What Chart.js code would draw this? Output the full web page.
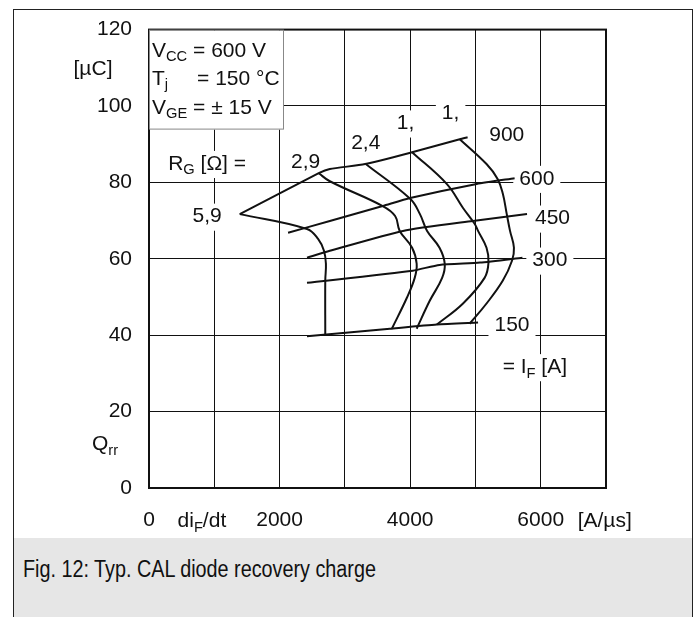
<!DOCTYPE html>
<html>
<head>
<meta charset="utf-8">
<script src="https://cdn.jsdelivr.net/npm/chart.js@4.4.1/dist/chart.umd.min.js"></script>
<style>
  body { margin: 0; background: #fff; }
  #frame { position: absolute; left: 13px; top: 9px; width: 678px; height: 529px; border: 1px solid #222; border-bottom: none; }
  #caption { position: absolute; left: 13px; top: 538px; width: 678px; height: 79px; background: #e6e6e6;
             border-left: 1px solid #222; border-right: 1px solid #222;
             font-family: 'Liberation Sans', Arial, sans-serif; font-size: 23px; color: #111; }
  #caption span { position: absolute; left: 9px; top: 18px; white-space: nowrap;
                  transform: scaleX(0.86); transform-origin: left top; }
  #chart { position: absolute; left: 0; top: 0; }
</style>
</head>
<body>
<div id="frame"></div>
<div id="caption"><span>Fig. 12: Typ. CAL diode recovery charge</span></div>
<canvas id="chart" width="697" height="538"></canvas>
<script>
// tick labels
const xTickLabels = [0, 2000, 4000, 6000];
const yTickLabels = [0, 20, 40, 60, 80, 100, 120];

// I_F = const curves  [di/dt A/us, Qrr uC]
const iF150 = [[2420, 39.7], [3690, 41.7], [4410, 42.8], [5040, 43.3]];
const iF300 = [[2420, 53.7], [4040, 56.9], [4450, 58.4], [5070, 59.0], [5720, 60.3]];
const iF450 = [[2420, 60.3], [2770, 62.1], [3890, 67.3], [4960, 69.9], [5790, 71.7]];
const iF600 = [[2130, 66.8], [2770, 69.9], [3580, 73.8], [4000, 75.9], [5020, 79.6], [5600, 81.1]];
const iF900 = [[1390, 71.7], [2600, 82.4], [2770, 83.5], [3310, 84.8], [4030, 87.9], [4760, 91.3], [4880, 91.8]];

// R_G = const curves
const rg59 = [[1390, 71.7], [2420, 67.8], [2590, 65.2], [2680, 62.1], [2710, 58.7], [2700, 54.3], [2700, 39.9]];
const rg29 = [[2600, 82.4], [2770, 80.3], [3580, 73.8], [3770, 71.2], [3840, 67.3], [4030, 62.9], [4100, 58.7], [4070, 55.0], [3950, 49.8], [3720, 41.7]];
const rg24 = [[3320, 84.8], [4000, 75.7], [4150, 71.7], [4260, 67.3], [4450, 62.9], [4530, 58.7], [4490, 55.0], [4300, 49.0], [4100, 41.7]];
const rg1a = [[4030, 87.9], [4560, 79.6], [4810, 73.3], [4990, 69.1], [5040, 67.3], [5170, 62.9], [5200, 59.0], [5140, 55.0], [4810, 48.3], [4410, 42.8]];
const rg1b = [[4760, 91.3], [5170, 84.8], [5340, 80.9], [5420, 77.0], [5480, 71.7], [5530, 67.3], [5590, 62.9], [5560, 59.5], [5420, 54.3], [5170, 48.3], [4910, 43.0]];

const currentNames = ['150', '300', '450', '600', '900'];
const resistorNames = ['5,9', '2,9', '2,4', '1,', '1,'];

// curve labels, placed in data coordinates (centre of text)
const curveLabels = [
  ['5,9', 890, 71.5], ['2,9', 2400, 85.8], ['R_{G} [Ω] =', 890, 85.3], ['2,4', 3320, 90.8],
  ['1,', 3930, 95.9], ['1,', 4620, 98.5], ['900', 5480, 92.9], ['600', 5940, 81.4],
  ['450', 6180, 71.0], ['300', 6140, 60.0], ['150', 5560, 43.0], ['= I_{F} [A]', 5910, 32.1]
];

const FONT = "'Liberation Sans', Arial, Helvetica, sans-serif";
const FS = 21;

function parts(s) {
  const out = [];
  const re = /_\{([^}]*)\}/g;
  let last = 0, m;
  while ((m = re.exec(s))) {
    if (m.index > last) out.push([s.slice(last, m.index), false]);
    out.push([m[1], true]);
    last = re.lastIndex;
  }
  if (last < s.length) out.push([s.slice(last), false]);
  return out;
}

function richWidth(ctx, s, size) {
  let w = 0;
  parts(s).forEach(([t, sub]) => {
    ctx.font = (sub ? size * 0.7 : size) + 'px ' + FONT;
    w += ctx.measureText(t).width;
  });
  return w;
}

// draw text with subscripts, y = baseline
function drawRich(ctx, s, x, y, align, size, bg) {
  const w = richWidth(ctx, s, size);
  let x0 = align === 'center' ? x - w / 2 : align === 'right' ? x - w : x;
  if (bg) {
    ctx.fillStyle = '#fff';
    ctx.fillRect(x0 - 6, y - size * 0.8 - 2, w + 12, size * 1.1 + 4);
  }
  ctx.fillStyle = '#111';
  ctx.textBaseline = 'alphabetic';
  ctx.textAlign = 'left';
  parts(s).forEach(([t, sub]) => {
    ctx.font = (sub ? size * 0.7 : size) + 'px ' + FONT;
    ctx.fillText(t, x0, sub ? y + size * 0.22 : y);
    x0 += ctx.measureText(t).width;
  });
}

const diagramPlugin = {
  id: 'diagram',
  beforeDatasetsDraw(chart) {
    const { ctx, scales: { x, y } } = chart;
    ctx.save();
    curveLabels.forEach(([t, vx, vy]) => {
      drawRich(ctx, t, x.getPixelForValue(vx), y.getPixelForValue(vy) + FS * 0.36, 'center', FS, true);
    });
    ctx.restore();
  },
  afterDatasetsDraw(chart) {
    const { ctx, chartArea: a, scales: { x, y } } = chart;
    ctx.save();
    // plot frame
    ctx.strokeStyle = '#111';
    ctx.lineWidth = 2;
    ctx.strokeRect(a.left, a.top, a.right - a.left, a.bottom - a.top);
    // conditions box
    const bx = a.left, by = a.top, bw = 134, bh = 99;
    ctx.fillStyle = '#fff';
    ctx.fillRect(bx + 1, by + 1, bw, bh);
    ctx.strokeStyle = '#888';
    ctx.lineWidth = 1;
    ctx.strokeRect(bx + 0.5, by + 0.5, bw, bh);
    const tx = bx + 3;
    drawRich(ctx, 'V_{CC} = 600 V', tx, by + 27, 'left', FS, false);
    const eqX = tx + richWidth(ctx, 'V_{CC} ', FS);
    drawRich(ctx, 'T_{j}', tx, by + 55, 'left', FS, false);
    drawRich(ctx, '= 150 °C', eqX + 4, by + 55, 'left', FS, false);
    drawRich(ctx, 'V_{GE} = ± 15 V', tx, by + 84, 'left', FS, false);
    // axis names
    drawRich(ctx, '[µC]', a.left - 56, y.getPixelForValue(110) + 7, 'center', FS, false);
    drawRich(ctx, 'Q_{rr}', a.left - 44, y.getPixelForValue(11.7) + 7, 'center', FS, false);
    const ty = a.bottom + 39;
    drawRich(ctx, 'di_{F}/dt', x.getPixelForValue(810), ty, 'center', FS, false);
    drawRich(ctx, '[A/µs]', x.getPixelForValue(6980), ty, 'center', FS, false);
    ctx.restore();
  }
};

function toXY(arr) { return arr.map(p => ({ x: p[0], y: p[1] })); }

const currentCurves = [iF150, iF300, iF450, iF600, iF900];
const resistorCurves = [rg59, rg29, rg24, rg1a, rg1b];

const datasets = [];
currentCurves.forEach((c, i) => datasets.push({
  label: 'IF ' + currentNames[i], data: toXY(c), showLine: true, tension: 0.2,
  borderColor: '#111', borderWidth: 2, pointRadius: 0
}));
resistorCurves.forEach((c, i) => datasets.push({
  label: 'RG ' + resistorNames[i], data: toXY(c), showLine: true, tension: 0.4,
  borderColor: '#111', borderWidth: 2, pointRadius: 0
}));

new Chart(document.getElementById('chart'), {
  type: 'scatter',
  data: { datasets },
  options: {
    responsive: false,
    animation: false,
    layout: { padding: { left: 0, top: 28, right: 91, bottom: 0 } },
    plugins: { legend: { display: false }, tooltip: { enabled: false } },
    scales: {
      x: {
        type: 'linear', min: 0, max: 7000,
        afterFit: s => { s.height = 50; },
        border: { display: false },
        grid: { color: '#111', lineWidth: 1, drawTicks: false },
        ticks: {
          stepSize: 1000, autoSkip: false, maxRotation: 0, padding: 20,
          color: '#111', font: { family: FONT, size: FS },
          callback: v => xTickLabels.includes(v) ? String(v) : ''
        }
      },
      y: {
        type: 'linear', min: 0, max: 120,
        afterFit: s => { s.width = 149; },
        border: { display: false },
        grid: { color: '#111', lineWidth: 1, drawTicks: false },
        ticks: {
          stepSize: 20, autoSkip: false, padding: 17,
          color: '#111', font: { family: FONT, size: FS },
          callback: v => yTickLabels.includes(v) ? String(v) : ''
        }
      }
    }
  },
  plugins: [diagramPlugin]
});
</script>
</body>
</html>
